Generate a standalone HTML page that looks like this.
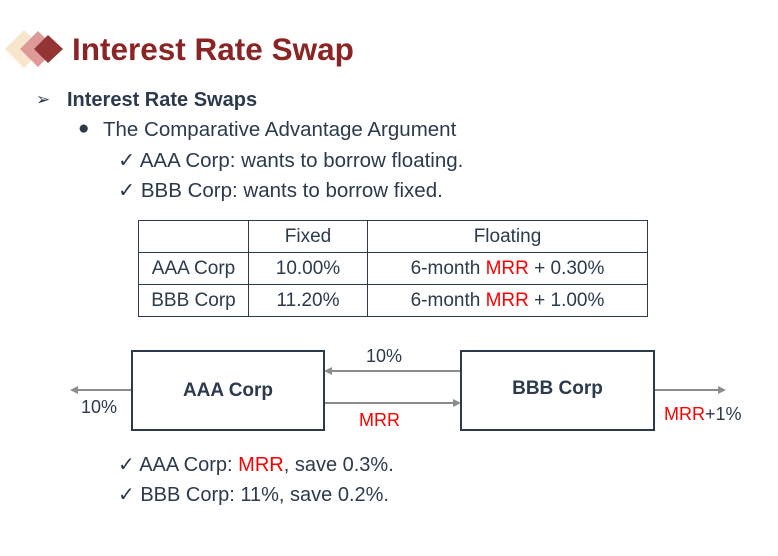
<!DOCTYPE html>
<html><head><style>
body{margin:0;width:778px;height:556px;background:#fff;position:relative;font-family:"Liberation Sans",sans-serif;color:#2b3a4d;overflow:hidden}
.t{position:absolute;white-space:nowrap}
.r{color:#f00}
table{position:absolute;left:138px;top:220px;border-collapse:collapse;font-size:19px}
td{border:1.5px solid #2b3a4d;height:31px;text-align:center;padding:0}
.box{position:absolute;border:2px solid #2b3a4d;box-sizing:border-box;font-weight:bold;font-size:19px;display:flex;align-items:center;justify-content:center}
</style></head><body>
<svg width="778" height="556" style="position:absolute;left:0;top:0">
<polygon points="5,49 24,30 43,49 24,68" fill="#f8e6cc"/>
<polygon points="20,49 38,31 56,49 38,67" fill="#de9a98"/>
<polygon points="34,49 48,35 63,49 48,63" fill="#953434"/>
<g stroke="#8c8c8c" stroke-width="2" fill="#8c8c8c">
<line x1="461" y1="371" x2="330" y2="371"/><polygon points="324,371 332,367 332,375" stroke="none"/>
<line x1="324" y1="403" x2="455" y2="403"/><polygon points="461,403 453,399 453,407" stroke="none"/>
<line x1="131" y1="390" x2="76" y2="390"/><polygon points="70,390 78,386 78,394" stroke="none"/>
<line x1="654" y1="390" x2="720" y2="390"/><polygon points="726,390 718,386 718,394" stroke="none"/>
</g>
</svg>
<div class="t" style="left:72px;top:31px;font-size:31.5px;font-weight:bold;color:#8b2525">Interest Rate Swap</div>
<div class="t" style="left:36px;top:90px;font-size:17px">&#x27A2;</div>
<div class="t" style="left:67px;top:89px;font-size:20px;font-weight:bold">Interest Rate Swaps</div>
<div class="t" style="left:78px;top:118px;font-size:19px">●</div>
<div class="t" style="left:103px;top:118px;font-size:20.5px">The Comparative Advantage Argument</div>
<div class="t" style="left:118px;top:148px;font-size:20.5px">✓ AAA Corp: wants to borrow floating.</div>
<div class="t" style="left:118px;top:178px;font-size:20.5px">✓ BBB Corp: wants to borrow fixed.</div>
<table>
<tr><td style="width:109px"></td><td style="width:118px">Fixed</td><td style="width:279px">Floating</td></tr>
<tr><td>AAA Corp</td><td>10.00%</td><td>6-month <span class="r">MRR</span> + 0.30%</td></tr>
<tr><td>BBB Corp</td><td>11.20%</td><td>6-month <span class="r">MRR</span> + 1.00%</td></tr>
</table>
<div class="box" style="left:131px;top:350px;width:194px;height:81px">AAA Corp</div>
<div class="box" style="left:460px;top:350px;width:195px;height:81px;padding-bottom:4px">BBB Corp</div>
<div class="t" style="left:366px;top:346px;font-size:18px">10%</div>
<div class="t r" style="left:359px;top:410px;font-size:18px">MRR</div>
<div class="t" style="left:81px;top:397px;font-size:18px">10%</div>
<div class="t" style="left:664px;top:404px;font-size:18px"><span class="r">MRR</span>+1%</div>
<div class="t" style="left:118px;top:452px;font-size:20px">✓ AAA Corp: <span class="r">MRR</span>, save 0.3%.</div>
<div class="t" style="left:118px;top:482px;font-size:20px">✓ BBB Corp: 11%, save 0.2%.</div>
</body></html>
